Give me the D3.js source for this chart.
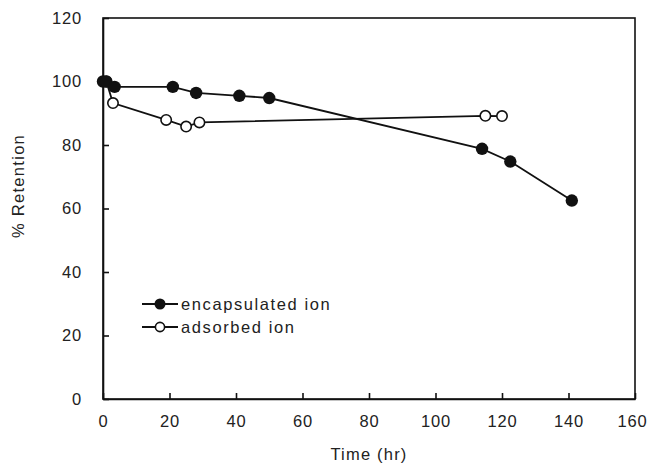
<!DOCTYPE html>
<html><head><meta charset="utf-8">
<script src="https://cdn.jsdelivr.net/npm/d3@7"></script>
<style>body{margin:0;background:#fff}svg text{font-family:"Liberation Sans",Arial,sans-serif;fill:#222}</style>
</head><body><svg id="c" width="649" height="466"></svg>
<script>
const encTime = [0, 1, 3.5, 21, 28, 41, 50, 114, 122.5, 141];
const encRet  = [100, 100, 98.3, 98.3, 96.4, 95.5, 94.8, 78.8, 74.8, 62.5];
const adsTime = [1, 3, 19, 25, 29, 115, 120];
const adsRet  = [100, 93.2, 87.9, 85.8, 87.1, 89.2, 89.1];
const xTicks = [0, 20, 40, 60, 80, 100, 120, 140, 160];
const yTicks = [0, 20, 40, 60, 80, 100, 120];
const seriesNames = ["encapsulated ion", "adsorbed ion"];

const svg = d3.select("#c");
const m = {l:103, t:18, r:635, b:399};
const x = d3.scaleLinear().domain([0,160]).range([m.l, m.r]);
const y = d3.scaleLinear().domain([0,120]).range([m.b, m.t]);

svg.append("rect").attr("x", m.l).attr("y", m.t).attr("width", m.r-m.l).attr("height", m.b-m.t)
  .attr("fill","none").attr("stroke","#111").attr("stroke-width",1.6);

const xa = svg.append("g").attr("transform",`translate(0,${m.b})`)
  .call(d3.axisBottom(x).tickValues(xTicks).tickSizeInner(-6).tickSizeOuter(0).tickPadding(16));
const ya = svg.append("g").attr("transform",`translate(${m.l},0)`)
  .call(d3.axisLeft(y).tickValues(yTicks).tickSizeInner(-6).tickSizeOuter(0).tickPadding(21));
[xa, ya].forEach(a => {
  a.select(".domain").attr("stroke","#111").attr("stroke-width",1.6);
  a.selectAll(".tick line").attr("stroke","#111").attr("stroke-width",1.6);
  a.selectAll(".tick text").attr("font-size",16.5).style("letter-spacing","0.8px")
    .style("font-family",'"Liberation Sans",Arial,sans-serif').attr("fill","#222");
});
xa.selectAll(".tick text").filter(d => d === 160).attr("dx", -3);

svg.append("text").attr("x", (m.l+m.r)/2).attr("y", 460).attr("text-anchor","middle")
  .attr("font-size",16.5).style("letter-spacing","1.2px").text("Time (hr)");
svg.append("text").attr("transform","translate(24,186) rotate(-90)").attr("text-anchor","middle")
  .attr("font-size",16.5).style("letter-spacing","1.3px").text("% Retention");

const line = d3.line().x(d=>x(d[0])).y(d=>y(d[1]));
const ads = adsTime.map((t,i)=>[t, adsRet[i]]);
const enc = encTime.map((t,i)=>[t, encRet[i]]);

svg.append("path").datum(ads).attr("d", line).attr("fill","none").attr("stroke","#111").attr("stroke-width",1.8);
svg.selectAll(".ads").data(ads).enter().append("circle")
  .attr("cx", d=>x(d[0])).attr("cy", d=>y(d[1])).attr("r",5.2)
  .attr("fill","#fff").attr("stroke","#111").attr("stroke-width",1.6);

svg.append("path").datum(enc).attr("d", line).attr("fill","none").attr("stroke","#111").attr("stroke-width",1.8);
svg.selectAll(".enc").data(enc).enter().append("circle")
  .attr("cx", d=>x(d[0])).attr("cy", d=>y(d[1])).attr("r",6.2).attr("fill","#111");

const lg = svg.append("g");
seriesNames.forEach((name,i)=>{
  const yy = 304 + i*23;
  lg.append("line").attr("x1",142).attr("x2",178).attr("y1",yy).attr("y2",yy).attr("stroke","#111").attr("stroke-width",1.8);
  if (i===0) lg.append("circle").attr("cx",160).attr("cy",yy).attr("r",5.5).attr("fill","#111");
  else lg.append("circle").attr("cx",160).attr("cy",yy).attr("r",4.6).attr("fill","#fff").attr("stroke","#111").attr("stroke-width",1.6);
  lg.append("text").attr("x",181).attr("y",yy).attr("dy","0.35em").attr("font-size",16.5)
    .style("letter-spacing","1.6px").text(name);
});
</script></body></html>
